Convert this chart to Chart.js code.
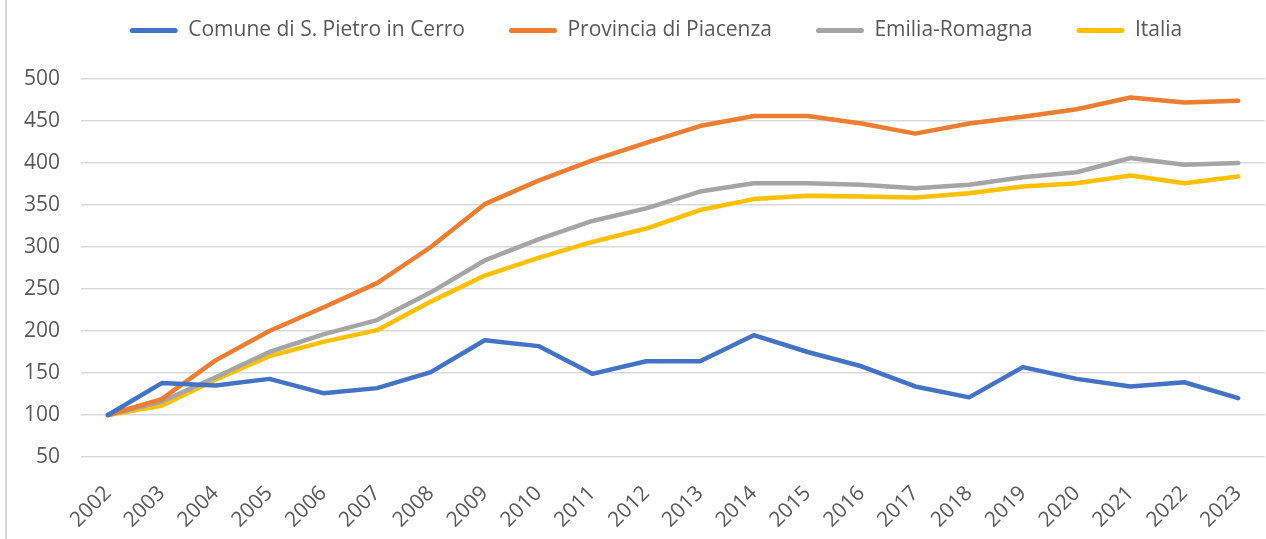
<!DOCTYPE html>
<html>
<head>
<meta charset="utf-8">
<script src="https://cdn.jsdelivr.net/npm/chart.js@4.4.1/dist/chart.umd.min.js"></script>
<style>
  html, body { margin: 0; padding: 0; background: #fff; overflow: hidden; }
  #frame { position: absolute; left: 5px; top: 0; width: 1267px; height: 539px; border-left: 2px solid #d9d9d9; }
  #wrap { position: absolute; left: 0; top: 0; width: 1272px; height: 539px; }
</style>
</head>
<body>
<div id="wrap"><canvas id="myChart"></canvas></div>
<div id="frame"></div>
<script>
const years = ['2002','2003','2004','2005','2006','2007','2008','2009','2010','2011','2012',
  '2013','2014','2015','2016','2017','2018','2019','2020','2021','2022','2023']

const comune = [100, 138, 135, 143, 126, 132, 151, 189, 182, 149, 164,
  164, 195, 175, 158, 134, 121, 157, 143, 134, 139, 120]
const provincia = [100, 119, 165, 200, 228, 257, 300, 351, 379, 403, 424,
  444, 456, 456, 447, 435, 447, 455, 464, 478, 472, 474]
const emilia = [100, 116, 145, 175, 196, 213, 246, 284, 309, 331, 346,
  366, 376, 376, 374, 370, 374, 383, 389, 406, 398, 400]
const italia = [100, 111, 142, 170, 187, 201, 235, 266, 287, 306, 322,
  344, 357, 361, 360, 359, 364, 372, 376, 385, 376, 384]

const yTicks = [50, 100, 150, 200, 250, 300, 350, 400, 450, 500]

const textColor = '#595959'
const fontFamily = '"Open Sans", "Noto Sans", sans-serif'

function line(label, values, color) {
  return {
    label: label,
    data: values,
    borderColor: color,
    backgroundColor: color,
    borderWidth: 4.5,
    pointRadius: 0,
    tension: 0,
    borderJoinStyle: 'round',
    borderCapStyle: 'round'
  }
}

// move the legend up and a bit right, like the Excel one
const legendShift = {
  id: 'legendShift',
  afterLayout(chart) {
    chart.legend.top -= 28
    chart.legend.left += 10
    chart.legend.right += 10
  }
}

const ctx = document.getElementById('myChart')

new Chart(ctx, {
  type: 'line',
  data: {
    labels: years,
    datasets: [
      line('Comune di S. Pietro in Cerro', comune, '#4472C4'),
      line('Provincia di Piacenza', provincia, '#ED7D31'),
      line('Emilia-Romagna', emilia, '#A5A5A5'),
      line('Italia', italia, '#FFC000')
    ]
  },
  plugins: [legendShift],
  options: {
    responsive: true,
    maintainAspectRatio: false,
    animation: false,
    layout: { padding: { top: 4, left: 20, right: 0, bottom: 0 } },
    plugins: {
      legend: {
        position: 'top',
        labels: {
          color: textColor,
          font: { family: fontFamily, size: 21 },
          boxWidth: 48,
          boxHeight: 5,
          padding: 44,
          useBorderRadius: true,
          borderRadius: 2.5,
          generateLabels(chart) {
            return chart.data.datasets.map((ds, i) => ({
              text: ds.label,
              fillStyle: ds.borderColor,
              strokeStyle: ds.borderColor,
              lineWidth: 0,
              fontColor: textColor,
              hidden: false,
              datasetIndex: i,
              borderRadius: 2.5
            }))
          }
        }
      },
      tooltip: { enabled: false }
    },
    scales: {
      x: {
        offset: true,
        grid: { display: false },
        border: { display: false },
        ticks: {
          color: textColor,
          font: { family: fontFamily, size: 21 },
          maxRotation: 45,
          minRotation: 45,
          padding: 16
        },
        afterFit(scale) { scale.height = 82 }
      },
      y: {
        min: 50,
        max: 500,
        afterBuildTicks(scale) { scale.ticks = yTicks.map(v => ({ value: v })) },
        grid: { color: '#d9d9d9', lineWidth: 1.5, drawTicks: false },
        border: { display: false },
        ticks: {
          color: textColor,
          font: { family: fontFamily, size: 21 },
          padding: 21
        },
        afterFit(scale) { scale.width = 61 }
      }
    }
  }
})
</script>
</body>
</html>
